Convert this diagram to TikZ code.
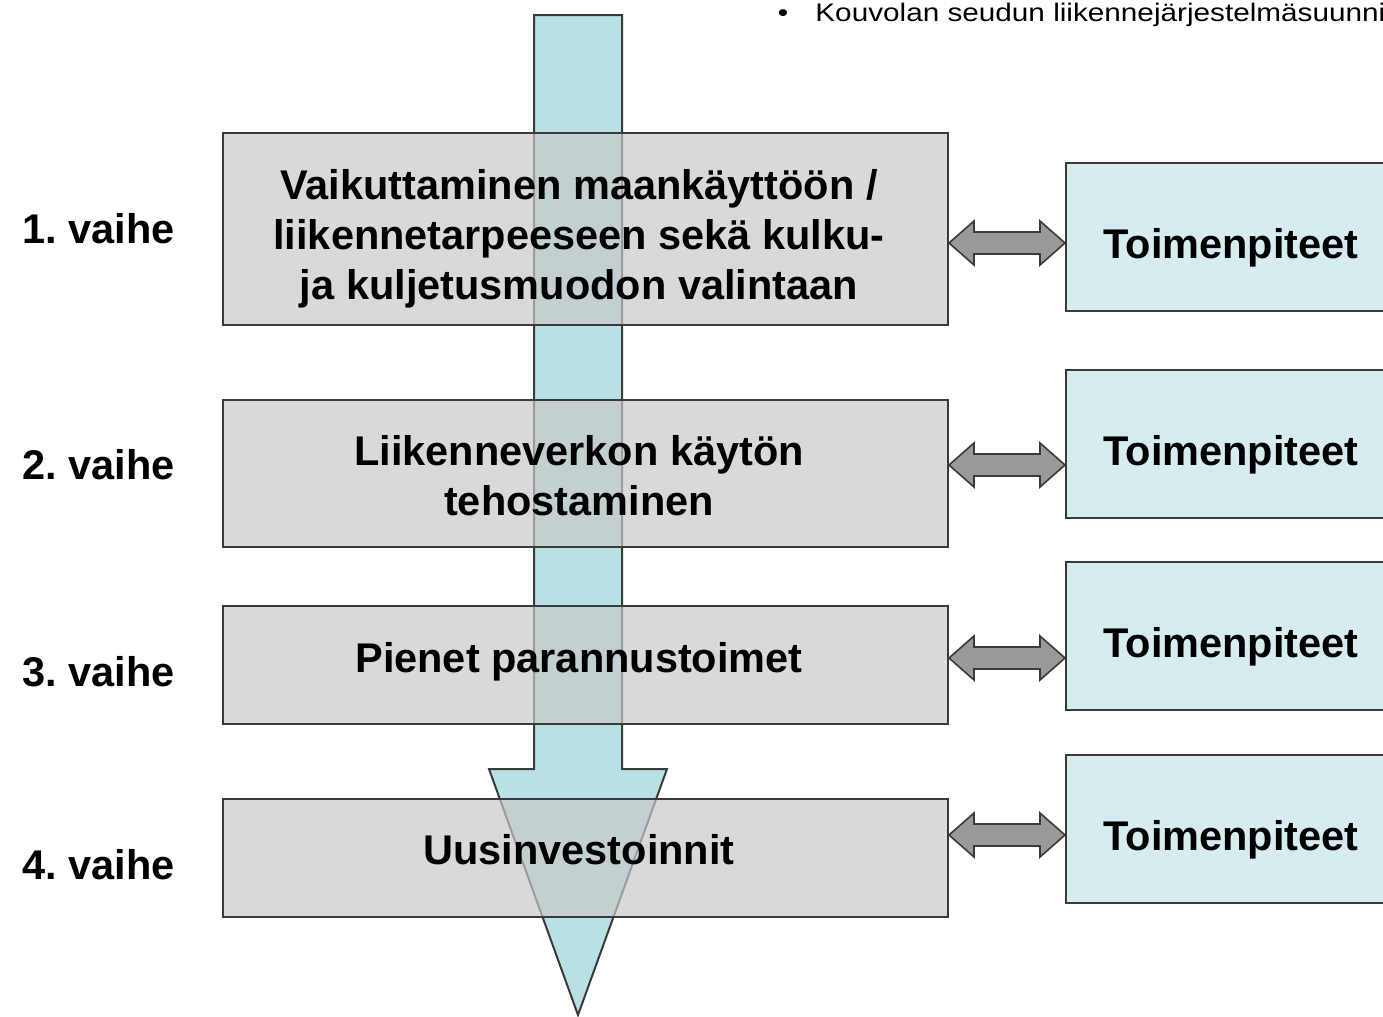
\documentclass[tikz,border=0pt]{standalone}
\usepackage{fontspec}
\setmainfont{Liberation Sans}
\newfontfamily\widesans[FakeStretch=1.17]{Liberation Sans}
\usepackage{tikz}
\usetikzlibrary{calc}

\definecolor{flowcyan}{HTML}{B9E1E5}
\definecolor{stagegray}{RGB}{200,200,200}
\definecolor{actblue}{HTML}{D7ECEF}
\definecolor{edgegray}{HTML}{3A3A3A}
\definecolor{dblgray}{HTML}{999999}

\frenchspacing

\begin{document}
\begin{tikzpicture}[
  x=0.5pt, y=-0.5pt,
  every node/.style={inner sep=0pt,font=\bfseries\fontsize{20.75}{25}\selectfont},
  stage/.style={rectangle,draw=edgegray,line width=1pt,fill=stagegray,fill opacity=0.69,
    minimum width=362.5pt},
  stagetext/.style={align=center},
  act/.style={rectangle,draw=edgegray,line width=1pt,fill=actblue,
    minimum width=165pt,minimum height=74pt,text height=26pt},
  phase/.style={anchor=west},
  heading/.style={font=\widesans\fontsize{12.7}{15}\selectfont},
  dblarr/.style={draw=edgegray,fill=dblgray,line width=0.8pt,
    to path={-- ++(25,-22) -- ++(0,11) -- ($(\tikztotarget)+(-25,-11)$) -- ++(0,-11)
      -- (\tikztotarget) -- ++(-25,22) -- ++(0,-11) -- ($(\tikztostart)+(25,11)$)
      -- ++(0,11) -- cycle}}
]
  \useasboundingbox (0,0) rectangle (1383,1017);
  \clip (0,0) rectangle (1383,1017);

  \node[heading,anchor=base] (dot) at (783,21.5) {\textbullet};
  \node[heading,anchor=base west] (title) at (815,21.5)
    {Kouvolan seudun liikennejärjestelmäsuunni};

  \draw[draw=edgegray,line width=1pt,fill=flowcyan]
    (534,15) -- (622,15) -- (622,769) -- (667,769) -- (578,1015) -- (489,769) -- (534,769) -- cycle;

  \node[stage,minimum height=96pt]   (s1) at (585.5,229)   {};
  \node[stage,minimum height=73.5pt] (s2) at (585.5,473.5) {};
  \node[stage,minimum height=59pt]   (s3) at (585.5,665)   {};
  \node[stage,minimum height=59pt]   (s4) at (585.5,858)   {};

  \node[stagetext] (l1) at (579,239) {Vaikuttaminen maankäyttöön /\\liikennetarpeeseen sekä kulku-\\ja kuljetusmuodon valintaan};
  \node[stagetext] (l2) at (579,476) {Liikenneverkon käytön\\tehostaminen};
  \node[stagetext] (l3) at (579,662) {Pienet parannustoimet};
  \node[stagetext] (l4) at (579,850) {Uusinvestoinnit};

  \node[phase] (v1) at (22,229) {1. vaihe};
  \node[phase] (v2) at (22,465) {2. vaihe};
  \node[phase] (v3) at (22,672) {3. vaihe};
  \node[phase] (v4) at (22,865) {4. vaihe};

  \node[act] (t1) at (1231,237)   {Toimenpiteet};
  \node[act] (t2) at (1231,443.5) {Toimenpiteet};
  \node[act] (t3) at (1231,636)   {Toimenpiteet};
  \node[act] (t4) at (1231,828.5) {Toimenpiteet};

  \coordinate (a1) at (s1.east |- 0,243);
  \coordinate (b1) at (t1.west |- 0,243);
  \coordinate (a2) at (s2.east |- 0,465);
  \coordinate (b2) at (t2.west |- 0,465);
  \coordinate (a3) at (s3.east |- 0,658);
  \coordinate (b3) at (t3.west |- 0,658);
  \coordinate (a4) at (s4.east |- 0,835);
  \coordinate (b4) at (t4.west |- 0,835);

  \draw[dblarr] (a1) to (b1);
  \draw[dblarr] (a2) to (b2);
  \draw[dblarr] (a3) to (b3);
  \draw[dblarr] (a4) to (b4);
\end{tikzpicture}
\end{document}
